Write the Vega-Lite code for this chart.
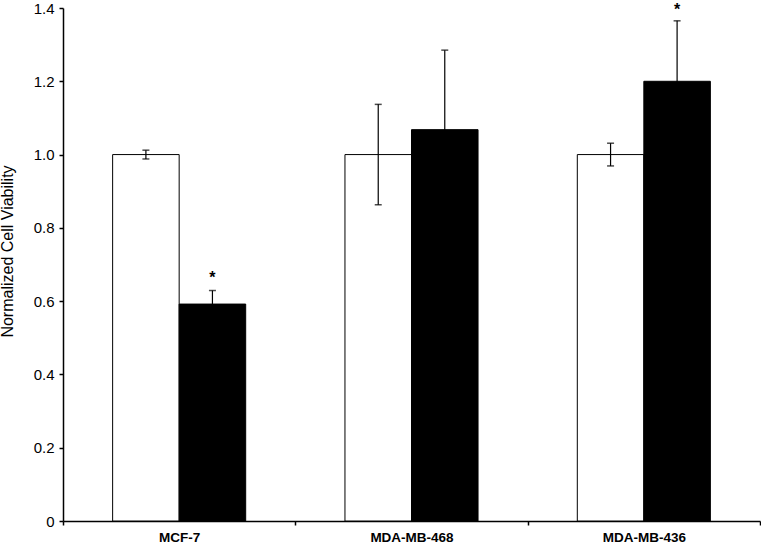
{
  "$schema": "https://vega.github.io/schema/vega-lite/v6.json",
  "width": 697,
  "height": 513,
  "autosize": "none",
  "padding": {"left": 63, "top": 8, "right": 1, "bottom": 26},
  "background": "white",
  "config": {
    "view": {"stroke": null},
    "font": "Liberation Sans",
    "axis": {"grid": false, "domainColor": "black", "tickColor": "black", "labelColor": "black", "titleColor": "black", "domainWidth": 1.5, "tickWidth": 1.5}
  },
  "data": {
    "values": [
      {"cell": "MCF-7", "group": "Control", "mean": 1.0, "err": 0.012, "star": null},
      {"cell": "MCF-7", "group": "Treated", "mean": 0.592, "err": 0.037, "star": 0.675},
      {"cell": "MDA-MB-468", "group": "Control", "mean": 1.0, "err": 0.137, "star": null},
      {"cell": "MDA-MB-468", "group": "Treated", "mean": 1.068, "err": 0.217, "star": null},
      {"cell": "MDA-MB-436", "group": "Control", "mean": 1.0, "err": 0.031, "star": null},
      {"cell": "MDA-MB-436", "group": "Treated", "mean": 1.2, "err": 0.165, "star": 1.405}
    ]
  },
  "transform": [
    {"calculate": "datum.mean + datum.err", "as": "hi"},
    {"calculate": "datum.mean - datum.err", "as": "lo"}
  ],
  "encoding": {
    "x": {
      "field": "cell", "type": "nominal", "sort": ["MCF-7", "MDA-MB-468", "MDA-MB-436"],
      "scale": {"paddingInner": 0, "paddingOuter": 0},
      "axis": {"title": null, "labelAngle": 0, "tickBand": "extent", "tickSize": 4, "labelFontSize": 13.5, "labelFontWeight": "bold", "labelPadding": 5}
    },
    "xOffset": {
      "field": "group", "type": "nominal", "sort": ["Control", "Treated"],
      "scale": {"paddingInner": 0, "paddingOuter": 0.746}
    }
  },
  "layer": [
    {
      "mark": {"type": "bar", "stroke": "black", "strokeWidth": 1},
      "encoding": {
        "y": {
          "field": "mean", "type": "quantitative",
          "scale": {"domain": [0, 1.4], "nice": false},
          "axis": {"title": "Normalized Cell Viability", "titleFontSize": 16, "titleFontWeight": "normal", "titleX": -56, "titleY": 243, "titleBaseline": "middle", "titleAlign": "center", "titleAngle": -90, "values": [0, 0.2, 0.4, 0.6, 0.8, 1.0, 1.2, 1.4], "labelExpr": "datum.value == 0 ? '0' : format(datum.value, '.1f')", "labelFontSize": 15, "tickSize": 4, "labelPadding": 5}
        },
        "fill": {"field": "group", "type": "nominal", "scale": {"domain": ["Control", "Treated"], "range": ["white", "black"]}, "legend": null}
      }
    },
    {
      "mark": {"type": "rule", "color": "black", "strokeWidth": 1.2},
      "encoding": {"y": {"field": "lo", "type": "quantitative"}, "y2": {"field": "hi"}}
    },
    {
      "mark": {"type": "tick", "color": "black", "thickness": 1.5, "size": 7, "orient": "horizontal"},
      "encoding": {"y": {"field": "hi", "type": "quantitative"}}
    },
    {
      "mark": {"type": "tick", "color": "black", "thickness": 1.5, "size": 7, "orient": "horizontal"},
      "encoding": {"y": {"field": "lo", "type": "quantitative"}}
    },
    {
      "transform": [{"filter": "datum.star != null"}],
      "mark": {"type": "text", "text": "*", "fontSize": 16, "fontWeight": "bold", "baseline": "middle", "dy": 4, "color": "black"},
      "encoding": {"y": {"field": "star", "type": "quantitative"}}
    }
  ]
}
